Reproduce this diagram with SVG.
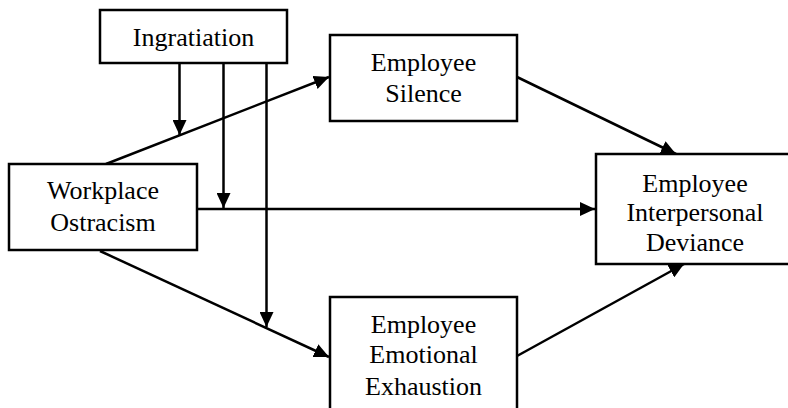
<svg xmlns="http://www.w3.org/2000/svg" width="788" height="408" viewBox="0 0 788 408">
<style>
rect{fill:#fff;stroke:#000;stroke-width:2.5}
text{font-family:"Liberation Serif","Times New Roman",serif;font-size:26px;fill:#000;text-anchor:middle}
.c line{stroke:#000;stroke-width:2.5;fill:none}
.a{marker-end:url(#ah)}
</style>
<defs>
<marker id="ah" markerUnits="userSpaceOnUse" markerWidth="16" markerHeight="14" refX="15" refY="7" orient="auto"><path d="M0,0 L15,7 L0,14 Z" fill="#000"/></marker>
</defs>
<rect x="0" y="0" width="788" height="408" style="stroke:none"/>
<g class="c" id="connectors">
<line class="a" x1="106" y1="164" x2="329" y2="77"/>
<line class="a" x1="197" y1="209" x2="595" y2="209"/>
<line class="a" x1="100" y1="251" x2="329" y2="357"/>
<line class="a" x1="517" y1="77" x2="676" y2="154"/>
<line class="a" x1="517" y1="356" x2="684" y2="264"/>
<line class="a" x1="179.5" y1="63" x2="179.5" y2="135"/>
<line class="a" x1="223.5" y1="63" x2="223.5" y2="208"/>
<line class="a" x1="266.5" y1="63" x2="266.5" y2="327"/>
</g>
<g id="ingratiation"><rect x="100" y="10" width="187" height="53"/><text x="193.5" y="46">Ingratiation</text></g>
<g id="ostracism"><rect x="9" y="164" width="188" height="86"/><text x="103" y="199">Workplace</text><text x="103" y="231">Ostracism</text></g>
<g id="silence"><rect x="330" y="35" width="187" height="86"/><text x="423.5" y="71">Employee</text><text x="423.5" y="102">Silence</text></g>
<g id="deviance"><rect x="596" y="154" width="200" height="110"/><text x="695" y="192">Employee</text><text x="695" y="221">Interpersonal</text><text x="695" y="251">Deviance</text></g>
<g id="exhaustion"><rect x="330" y="297" width="187" height="120"/><text x="423.5" y="333">Employee</text><text x="423.5" y="363">Emotional</text><text x="423.5" y="395">Exhaustion</text></g>
</svg>
